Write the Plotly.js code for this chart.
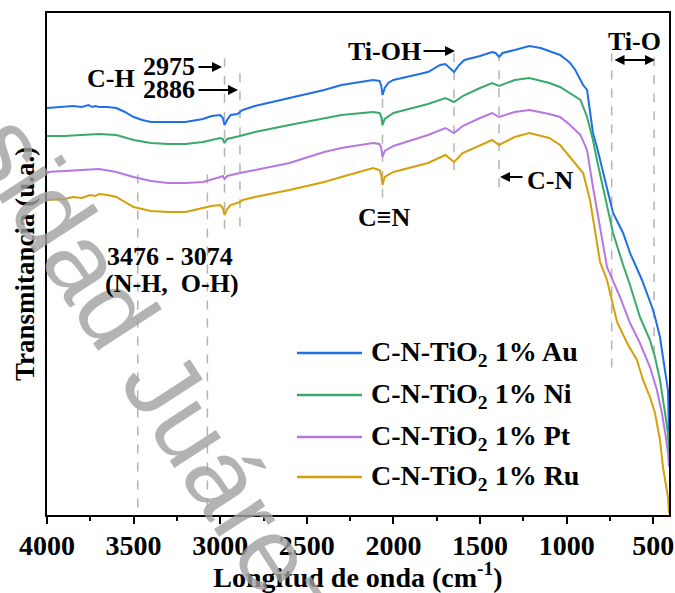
<!DOCTYPE html>
<html>
<head>
<meta charset="utf-8">
<script src="https://cdn.plot.ly/plotly-3.0.1.min.js"></script>
<style>html,body{margin:0;padding:0;background:#fff;}#chart{width:675px;height:593px;}</style>
</head>
<body>
<div id="chart"></div>
<script>
// ---- data (wavenumber in cm^-1, transmittance in arbitrary units) ----
const seriesNames = ["C-N-TiO<sub>2</sub> 1% Au", "C-N-TiO<sub>2</sub> 1% Ni", "C-N-TiO<sub>2</sub> 1% Pt", "C-N-TiO<sub>2</sub> 1% Ru"];
const seriesColors = ["#1f6fe6", "#3aaa6a", "#b877e0", "#d4a00a"];

const wnAu = [4000,3900,3850,3800,3760,3740,3720,3700,3650,3600,3550,3500,3450,3400,3300,3200,3100,3050,3000,2985,2975,2960,2940,2900,2886,2870,2800,2700,2600,2500,2400,2300,2200,2118,2080,2070,2063,2050,2030,2000,1900,1800,1730,1700,1650,1620,1590,1500,1430,1410,1390,1370,1300,1250,1215,1150,1100,1038,1000,980,950,905,882,860,848,825,780,732,674,634,565,536,507,490,461,444,427,415,409];
const tAu  = [407,408,409,408,410,408,409,408,408,407,403,398,395,393,393,393,396,399,400,397,390,395,400,401,403,405,409,413,417,421,425,430,433,435,434,429,420,427,432,435,439,443,450,451,443,450,455,459,463,462,458,462,465,467,469,467,464,460,455,452,445,430,425,400,382,368,335,302,282,262,235,222,208,198,178,158,138,125,78];

const wnNi = [4000,3900,3800,3700,3600,3500,3400,3300,3200,3100,3000,2985,2975,2960,2886,2800,2600,2400,2300,2118,2080,2070,2063,2050,2000,1800,1700,1650,1600,1500,1430,1390,1300,1215,1100,1038,980,920,882,848,825,780,732,674,634,577,519,490,461,432,415,409];
const tNi  = [379,379,380,381,380,375,372,371,371,373,377,376,372,376,379,383,390,397,400,403,402,398,390,396,402,411,417,413,419,427,432,429,435,437,432,428,422,415,398,375,355,320,282,250,230,198,175,158,135,102,82,60];

const wnPt = [4000,3900,3800,3700,3600,3500,3400,3300,3200,3100,3000,2985,2975,2960,2886,2800,2600,2400,2300,2118,2080,2070,2063,2050,2000,1800,1700,1650,1600,1500,1430,1390,1300,1215,1100,1038,980,920,882,848,767,692,634,577,519,479,450,427,415,409];
const tPt  = [343,344,345,346,343,338,334,332,332,333,338,339,336,339,342,345,352,363,367,372,371,367,358,364,369,380,387,382,389,397,402,398,403,405,401,398,390,380,365,328,248,218,192,172,148,125,102,78,62,48];

const wnRu = [4000,3900,3850,3800,3750,3720,3700,3650,3600,3550,3500,3400,3300,3200,3100,3050,3000,2985,2975,2960,2940,2886,2870,2800,2600,2400,2300,2118,2080,2070,2063,2050,2000,1800,1700,1650,1600,1500,1430,1390,1300,1215,1100,1038,980,940,905,865,807,767,738,709,651,594,559,519,490,461,444,427,415,409];
const tRu  = [315,316,318,317,320,319,321,320,318,313,308,304,303,303,307,309,310,307,300,306,310,313,315,318,325,333,338,347,345,340,330,338,343,352,360,353,362,370,375,370,378,382,377,370,358,350,342,315,253,235,215,193,172,155,135,118,102,75,48,28,18,2];

const xTicks = [4000,3500,3000,2500,2000,1500,1000,500];
const bandLines = [
  {wn:2975, y0:0.57, y1:0.91}, {wn:2886, y0:0.575, y1:0.895},
  {wn:3476, y0:0.015, y1:0.687}, {wn:3074, y0:0.015, y1:0.691},
  {wn:2063, y0:0.632, y1:0.835}, {wn:1650, y0:0.687, y1:0.93},
  {wn:1390, y0:0.653, y1:0.91}, {wn:740, y0:0.294, y1:0.92}, {wn:495, y0:0.32, y1:0.92}
];

// ---- figure ----
const FONT = "Liberation Serif, Times New Roman, serif";
const W = 675, H = 593, ML = 47, MR = 6, MT = 13, MB = 78;
const PW = W - ML - MR, PH = H - MT - MB;
const px = x => (x - ML) / PW;
const py = y => (H - MB - y) / PH;

const wns = [wnAu, wnNi, wnPt, wnRu], ts = [tAu, tNi, tPt, tRu];
const traces = ts.map((t, i) => ({
  x: wns[i], y: t, type: "scatter", mode: "lines",
  name: seriesNames[i], line: {color: seriesColors[i], width: 2}, showlegend: false
}));

const shapes = bandLines.map(b => ({
  type: "line", xref: "x", yref: "paper", x0: b.wn, x1: b.wn, y0: b.y0, y1: b.y1,
  line: {color: "#b4b4b4", width: 1.5, dash: "dash"}, layer: "below"
}));

const annotations = [];
const txt = (text, x, y, size, anchor) => annotations.push({
  text: text, xref: "paper", yref: "paper", x: px(x), y: py(y), showarrow: false,
  xanchor: anchor || "center", yanchor: "middle",
  font: {family: FONT, size: size || 27, color: "#000", weight: "bold"}
});
const arrow = (hx, hy, tx, ty, both) => annotations.push({
  text: "", xref: "paper", yref: "paper", x: px(hx), y: py(hy),
  ax: tx - hx, ay: ty - hy, axref: "pixel", ayref: "pixel",
  showarrow: true, arrowhead: 2, arrowsize: 1, arrowwidth: 2, arrowcolor: "#000",
  arrowside: both ? "end+start" : "end", startarrowhead: 2, startarrowsize: 1
});

// watermark (drawn first so the labels sit above it)
annotations.push({
  text: "sidad Juárez", xref: "paper", yref: "paper", x: px(158), y: py(375),
  showarrow: false, textangle: 57, xanchor: "center", yanchor: "middle",
  font: {family: "Liberation Sans, Arial, sans-serif", size: 105, color: "rgba(160,160,160,0.8)"}
});

// legend (drawn manually to match long line samples)
const legY = [353, 395, 437, 477];
seriesNames.forEach((n, i) => {
  shapes.push({type: "line", xref: "paper", yref: "paper", x0: px(297), x1: px(362),
    y0: py(legY[i]), y1: py(legY[i]), line: {color: seriesColors[i], width: 2.5}});
  txt(n, 369, legY[i], 28, "left");
});

txt("C-H", 111, 78, 26);
txt("2975", 169, 66, 26);
txt("2886", 169, 90, 26);
arrow(222, 67, 197, 67);
arrow(238, 90, 197, 90);
txt("3476 - 3074", 170, 256, 26);
txt("(N-H,  O-H)", 172, 283, 26);
txt("Ti-OH", 384, 51, 26);
arrow(455, 51, 422, 51);
txt("C\u2261N", 384, 217, 26);
arrow(500, 177, 524, 177);
txt("C-N", 550, 180, 26);
txt("Ti-O", 634, 42, 26);
arrow(655, 60, 613, 60, true);

const layout = {
  width: W, height: H,
  margin: {l: ML, r: MR, t: MT, b: MB, pad: 0},
  paper_bgcolor: "#fff", plot_bgcolor: "#fff",
  showlegend: false,
  xaxis: {
    range: [4000, 409], tickvals: xTicks, ticktext: xTicks.map(String),
    ticks: "outside", ticklen: 7, tickwidth: 2, tickcolor: "#000",
    minor: {dtick: 250, ticks: "outside", ticklen: 4, tickwidth: 2, tickcolor: "#000"},
    showline: true, linewidth: 2, linecolor: "#000", mirror: true,
    showgrid: false, zeroline: false, ticklabelstandoff: -3,
    tickfont: {family: FONT, size: 28, color: "#000", weight: "bold"},
    title: {text: "Longitud de onda (cm<sup>-1</sup>)", standoff: 6,
      font: {family: FONT, size: 28, color: "#000", weight: "bold"}},
    automargin: false
  },
  yaxis: {
    range: [0, 502], showticklabels: false, ticks: "",
    showline: true, linewidth: 2, linecolor: "#000", mirror: true,
    showgrid: false, zeroline: false,
    title: {text: "Transmitancia (u.a.)", standoff: 3,
      font: {family: FONT, size: 27, color: "#000", weight: "bold"}},
    automargin: false
  },
  shapes: shapes,
  annotations: annotations
};

Plotly.newPlot("chart", traces, layout, {staticPlot: true, displayModeBar: false});
</script>
</body>
</html>
